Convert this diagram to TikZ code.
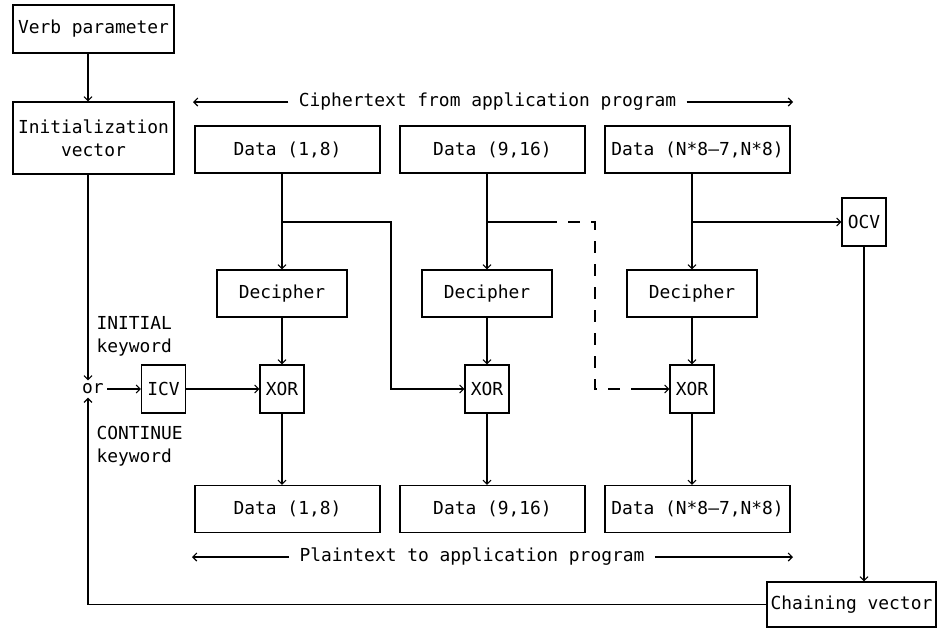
\documentclass[tikz,border=0pt]{standalone}
\usepackage{fontspec}
\setmonofont{DejaVu Sans Mono}
\usetikzlibrary{positioning, arrows.meta, calc}

\begin{document}
\begin{tikzpicture}[x=1pt, y=-1pt, line width=1.1pt, on grid, node distance=205pt,
  >={Straight Barb[length=4pt,width=8pt]},
  every node/.style={font=\ttfamily\fontsize{17.9}{23}\selectfont},
  box/.style={draw, inner sep=0pt, align=center, minimum height=47pt},
  databox/.style={box, minimum width=185pt},
  cipherbox/.style={box, minimum width=130pt},
  gate/.style={box, minimum width=44pt, minimum height=48pt},
  flow/.style={inner xsep=10pt, inner ysep=0pt}]
  \useasboundingbox (0,0) rectangle (937,630);

  % key side
  \node[box, minimum width=161pt, minimum height=48pt] (verb) at (93.5,29) {Verb parameter};
  \node[box, minimum width=161pt, minimum height=72pt] (iv) at (93.5,138) {Initialization\\vector};
  \coordinate (lane) at (88,389);
  \node[inner sep=3pt] (or) at (93,389) {or};
  \node[anchor=west, align=left, inner sep=0pt] (initkw) at (96,336) {INITIAL\\keyword};
  \node[anchor=west, align=left, inner sep=0pt] (contkw) at (96,446) {CONTINUE\\keyword};
  \node[gate] (icv) at (163.5,389) {ICV};

  % ciphertext blocks
  \node[flow] (ctext) at (487.5,102) {Ciphertext from application program};
  \coordinate (cleft) at (193,102);
  \coordinate (cright) at (793,102);
  \node[databox] (cin1) at (287.5,149.5) {Data (1,8)};
  \node[databox] (cin2) [right=of cin1] {Data (9,16)};
  \node[databox] (cin3) [right=of cin2] {Data (N*8—7,N*8)};

  \node[cipherbox] (dec1) at (282,293.5) {Decipher};
  \node[cipherbox] (dec2) [right=of dec1] {Decipher};
  \node[cipherbox] (dec3) [right=of dec2] {Decipher};

  \node[gate] (xor1) [below=95.5pt of dec1] {XOR};
  \node[gate] (xor2) [below=95.5pt of dec2] {XOR};
  \node[gate] (xor3) [below=95.5pt of dec3] {XOR};

  % plaintext blocks
  \node[databox] (pout1) at (287.5,509) {Data (1,8)};
  \node[databox] (pout2) [right=of pout1] {Data (9,16)};
  \node[databox] (pout3) [right=of pout2] {Data (N*8—7,N*8)};
  \node[flow] (ptext) at (472,557) {Plaintext to application program};
  \coordinate (pleft) at (192,557);
  \coordinate (pright) at (793,557);

  \node[gate] (ocv) at (864,222) {OCV};
  \node[box, minimum width=169pt, minimum height=45pt] (chain) at (851.5,604.5) {Chaining vector};

  \coordinate (b1) at (dec1 |- ocv.west);
  \coordinate (b2) at (dec2 |- ocv.west);
  \coordinate (b3) at (dec3 |- ocv.west);
  \coordinate (k1) at (391,222);
  \coordinate (k2) at (595,222);

  \draw[->] (ctext.west) -- (cleft);
  \draw[->] (ctext.east) -- (cright);
  \draw[->] (ptext.west) -- (pleft);
  \draw[->] (ptext.east) -- (pright);

  \draw[->] (verb.south -| lane) -- (iv.north -| lane);
  \draw[->] (iv.south -| lane) -- (or.north -| lane);
  \draw[->] (or.east) -- (icv.west);
  \draw[->] (icv.east) -- (xor1.west);
  \draw[->] (chain.west) -| (or.south -| lane);

  \foreach \i in {1,2,3} {
    \draw[->] (cin\i.south -| dec\i) -- (dec\i.north);
    \draw[->] (dec\i.south) -- (xor\i.north);
    \draw[->] (xor\i.south) -- (pout\i.north -| xor\i);
  }

  % chaining between columns
  \draw[->] (b1) -- (k1) |- (xor2.west);
  \draw (b2) -- ++(70,0) coordinate (d2a);
  \draw[dash pattern=on 12pt off 11pt, dash phase=12pt] (d2a) -- (k2) |- ($(xor3.west)+(-38,0)$) coordinate (d2b);
  \draw[->] (d2b) -- (xor3.west);
  \draw[->] (b3) -- (ocv.west);
  \draw[->] (ocv.south) -- (chain.north -| ocv);
\end{tikzpicture}
\end{document}
